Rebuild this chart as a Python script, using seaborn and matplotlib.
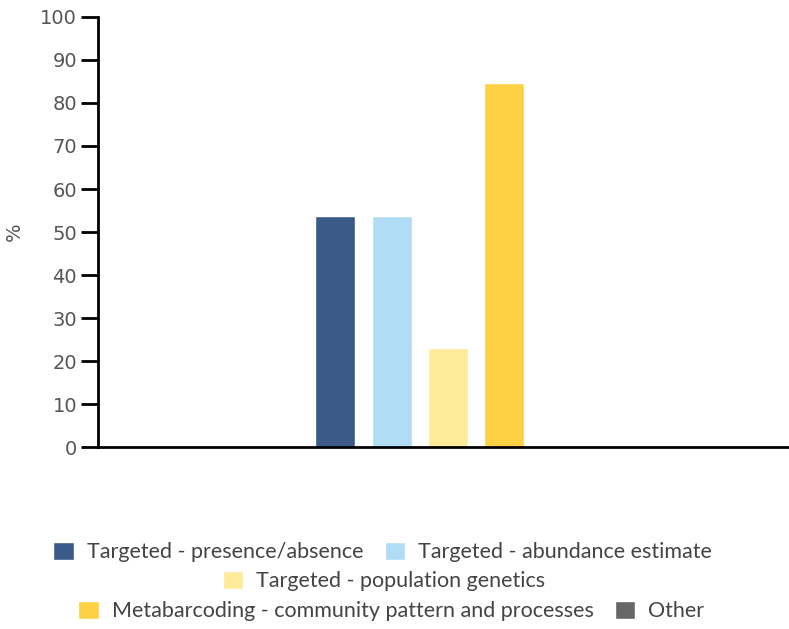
import matplotlib
matplotlib.use("Agg")
import matplotlib.pyplot as plt
import seaborn as sns
import pandas as pd

# data
categorias = [
    "Targeted - presence/absence",
    "Targeted - abundance estimate",
    "Targeted - population genetics",
    "Metabarcoding - community pattern and processes",
    "Other",
]
porcentajes = [53.8, 53.8, 23.1, 84.6, 0.0]
colores = ["#3a5a88", "#b0dcf5", "#feeb9a", "#fed044", "#666666"]

df = pd.DataFrame({"grupo": ["all"] * len(categorias),
                   "categoria": categorias,
                   "pct": porcentajes})

sns.set_style("white")
plt.rcParams["font.family"] = ["DejaVu Sans"]

fig = plt.figure(figsize=(7.89, 6.29), dpi=100)
ax = fig.add_axes([0.1242, 0.2893, 0.8758, 0.6837])

sns.barplot(data=df, x="grupo", y="pct", hue="categoria", hue_order=categorias,
            palette=colores, width=0.8, gap=0.29, saturation=1, ax=ax, legend=True)

ax.set_xlim(-0.994, 0.969)
ax.set_ylim(0, 100)
ax.set_yticks(range(0, 101, 10))
ax.set_xticks([])
ax.set_xlabel("")
ax.set_ylabel("%", fontsize=14, color="#555555", labelpad=12)
ax.tick_params(axis="y", direction="out", length=12, width=2, color="black",
               labelsize=14, labelcolor="#555555", pad=3, left=True)
sns.despine(ax=ax, top=True, right=True)
for s in ["left", "bottom"]:
    ax.spines[s].set_linewidth(2)
    ax.spines[s].set_color("black")

# legend in three rows
handles, labels = ax.get_legend_handles_labels()
ax.get_legend().remove()
filas = [([0, 1], 0.1224, 0.485), ([2], 0.0763, 0.487), ([3, 4], 0.0286, 0.496)]
for idx, ypos, xpos in filas:
    leg = fig.legend([handles[i] for i in idx], [labels[i] for i in idx],
                     loc="center", bbox_to_anchor=(xpos, ypos), ncol=len(idx),
                     frameon=False, prop={"family": "Lato", "size": 15.5},
                     handlelength=0.95, handleheight=0.95,
                     handletextpad=0.6, columnspacing=1.0, labelcolor="#444444")

fig.savefig("out.png", dpi=100)
